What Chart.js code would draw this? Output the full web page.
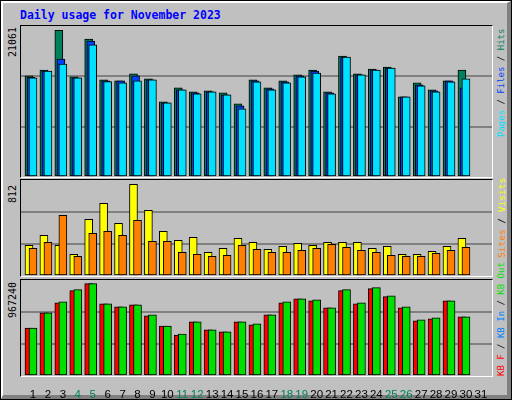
<!DOCTYPE html>
<html>
<head>
<meta charset="utf-8">
<script src="https://cdn.jsdelivr.net/npm/chart.js@4.4.0/dist/chart.umd.min.js"></script>
<style>
  body { margin: 0; background: #C0C0C0; }
  #frame { position: absolute; left: 0; top: 0; width: 510px; height: 398px; border: 1px solid #000; background: #C0C0C0; }
  #inner { position: absolute; left: 0; top: 0; width: 504px; height: 392px; border-left: 2px solid #fff; border-top: 2px solid #fff; border-right: 4px solid #808080; border-bottom: 4px solid #808080; }
  .panel { position: absolute; left: 20px; width: 471px; border-top: 1px solid #000; border-left: 1px solid #000; border-right: 1px solid #fff; border-bottom: 1px solid #fff; }
  canvas { position: absolute; }
  .rot { position: absolute; transform-origin: left top; transform: rotate(-90deg); white-space: nowrap;
         font-family: "DejaVu Sans Mono", monospace; line-height: 1; }
  #title { position: absolute; left: 20px; top: 8px; font: bold 11.5px "DejaVu Sans Mono", monospace; color: #0000FF; }
</style>
</head>
<body>
<div id="frame"><div id="inner"></div></div>
<div id="title">Daily usage for November 2023</div>
<div class="panel" style="top:25px;height:151px"></div>
<div class="panel" style="top:179px;height:96px"></div>
<div class="panel" style="top:279px;height:96px"></div>
<canvas id="c1" width="471" height="151" style="left:21px;top:26px"></canvas>
<canvas id="c2" width="471" height="96" style="left:21px;top:180px"></canvas>
<canvas id="c3" width="471" height="120" style="left:21px;top:280px"></canvas>

<div class="rot" style="left:8px;top:57px;font-size:10px;color:#000">21061</div>
<div class="rot" style="left:8px;top:203px;font-size:10px;color:#000">812</div>
<div class="rot" style="left:8px;top:318px;font-size:10px;color:#000">967240</div>
<div class="rot" style="left:497px;top:137px;font-size:9px"><span style="color:#00E0FF">Pages</span> / <span style="color:#0040FF">Files</span> / <span style="color:#00805C">Hits</span></div>
<div class="rot" style="left:497px;top:258px;font-size:9.5px"><span style="color:#FF8000">Sites</span> / <span style="color:#FFFF00">Visits</span></div>
<div class="rot" style="left:497px;top:376px;font-size:9px"><span style="color:#FF0000">KB F</span> / <span style="color:#0080FF">KB In</span> / <span style="color:#00E000">KB Out</span></div>

<script>
const days = [1,2,3,4,5,6,7,8,9,10,11,12,13,14,15,16,17,18,19,20,21,22,23,24,25,26,27,28,29,30,31];
const weekend = [4,5,11,12,18,19,25,26];

const hits  = [14095,14927,20471,13957,19224,13541,13403,14373,13680,10492,12432,11878,12017,11739,10215,13541,12432,13403,14234,14927,11878,16867,14373,15066,15343,11185,13126,12155,13403,14927];
const files = [13900,14789,16452,13818,18947,13403,13403,14095,13541,10353,12155,11740,11878,11462,9938,13403,12290,13264,14096,14789,11740,16729,14234,14927,15204,11185,12850,12017,13403,12432];
const pages = [13818,14789,15759,13818,18434,13306,13126,13403,13541,10353,12155,11601,11878,11462,9522,13264,12155,13126,13957,14511,11601,16729,14234,14927,15204,11185,12710,11878,13264,13680];

const visits = [260,344,260,184,480,615,446,776,556,378,302,327,200,234,319,285,226,251,277,260,285,285,285,234,251,184,184,209,251,319];
const sites  = [234,285,513,167,361,378,344,471,293,293,200,184,167,175,260,226,200,200,217,234,268,243,217,200,175,167,167,192,217,243];

const kbF   = [484000,636000,738000,860000,931000,728000,697000,718000,606000,504000,413000,545000,464000,444000,545000,515000,616000,738000,778000,758000,687000,860000,728000,880000,799000,687000,555000,575000,758000,596000];
const kbOut = [484000,636000,748000,870000,931000,728000,697000,718000,616000,504000,423000,545000,464000,444000,545000,525000,616000,748000,778000,768000,687000,870000,738000,890000,809000,697000,565000,585000,758000,596000];

const maxTop = 21061, maxMid = 812, maxBot = 967240;
const xMin = 0.196, xMax = 31.745;

function pts(vals, off) {
  return vals.map((v, i) => ({ x: days[i] + off, y: v }));
}
function ds(vals, off, color, order) {
  return { data: pts(vals, off), backgroundColor: color, borderColor: '#000', borderWidth: 1,
           borderSkipped: false, barThickness: 8, grouped: false, order: order };
}
function makeChart(id, sets, max, showX) {
  new Chart(document.getElementById(id), {
    type: 'bar',
    data: { datasets: sets },
    options: {
      responsive: false, animation: false, devicePixelRatio: 1,
      layout: { padding: 0 },
      plugins: { legend: { display: false }, tooltip: { enabled: false } },
      scales: {
        x: {
          type: 'linear', min: xMin, max: xMax, display: showX, offset: false,
          grid: { display: false }, border: { display: false },
          afterBuildTicks: function (s) { s.ticks = days.map(d => ({ value: d })); },
          afterFit: function (s) { s.height = showX ? 24 : 0; },
          ticks: {
            autoSkip: false, padding: 4, maxRotation: 0,
            font: { family: 'Liberation Sans', size: 11.5 },
            color: function (c) { return weekend.includes(c.tick.value) ? '#00805C' : '#000'; },
            callback: function (v) { return v; }
          }
        },
        y: {
          min: 0, max: max,
          afterFit: function (s) { s.width = 0; },
          border: { display: false },
          grid: { drawTicks: false, lineWidth: 2,
                  color: function (c) { return (c.tick.value > 0 && c.tick.value < max) ? '#808080' : 'transparent'; } },
          afterBuildTicks: function (s) { s.ticks = [0, max / 3, 2 * max / 3, max].map(v => ({ value: v })); },
          ticks: { display: false }
        }
      }
    }
  });
}

makeChart('c1', [
  ds(hits, -0.27, '#00805C', 3),
  ds(files, -0.13, '#0040FF', 2),
  ds(pages, 0, '#00E0FF', 1)
], maxTop, false);

makeChart('c2', [
  ds(visits, -0.27, '#FFFF00', 2),
  ds(sites, 0, '#FF8000', 1)
], maxMid, false);

makeChart('c3', [
  ds(kbF, -0.27, '#FF0000', 2),
  ds(kbOut, 0, '#00E000', 1)
], maxBot, true);
</script>
</body>
</html>
